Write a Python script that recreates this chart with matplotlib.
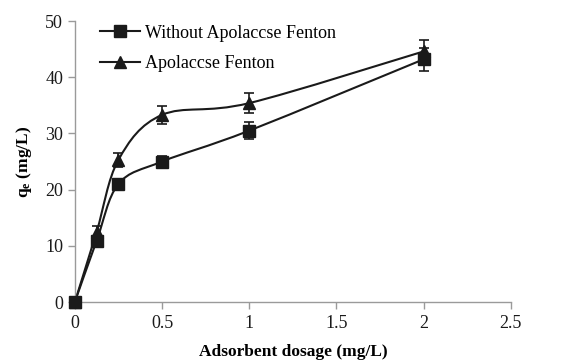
import numpy as np
import matplotlib
matplotlib.use("Agg")
import matplotlib.pyplot as plt
from matplotlib.path import Path
from matplotlib.patches import PathPatch
from matplotlib.lines import Line2D

plt.rcParams['font.family'] = ['Liberation Serif', 'DejaVu Serif']
plt.rcParams['mathtext.fontset'] = 'custom'
plt.rcParams['mathtext.rm'] = 'Liberation Serif'
plt.rcParams['mathtext.it'] = 'Liberation Serif:italic'
plt.rcParams['mathtext.bf'] = 'Liberation Serif:bold'

dosage = [0, 0.125, 0.25, 0.5, 1, 2]
without_fenton = [0, 10.9, 21.0, 25.0, 30.5, 43.2]
without_err = [0, 0.8, 0.6, 1.0, 1.5, 2.0]
with_fenton = [0, 12.5, 25.3, 33.3, 35.4, 44.6]
with_err = [0, 1.0, 1.2, 1.6, 1.8, 2.1]
labels = ["Without Apolaccse Fenton", "Apolaccse Fenton"]
xticks = [0, 0.5, 1, 1.5, 2, 2.5]
yticks = [0, 10, 20, 30, 40, 50]

fig = plt.figure(figsize=(5.67, 3.63), dpi=100)
ax = fig.add_axes([0.132, 0.168, 0.769, 0.774])


def smooth_path(x, y):
    pts = np.column_stack([x, y]).astype(float)
    n = len(pts)
    verts = [pts[0]]
    codes = [Path.MOVETO]
    for i in range(n - 1):
        p0 = pts[i - 1] if i > 0 else pts[i]
        p1 = pts[i]
        p2 = pts[i + 1]
        p3 = pts[i + 2] if i + 2 < n else pts[i + 1]
        c1 = p1 + (p2 - p0) / 6.0
        c2 = p2 - (p3 - p1) / 6.0
        verts += [c1, c2, p2]
        codes += [Path.CURVE4] * 3
    return Path(verts, codes)


gray = '#9a9a9a'
for ys, err, mk in [(without_fenton, without_err, 's'), (with_fenton, with_err, '^')]:
    ax.add_patch(PathPatch(smooth_path(dosage, ys), facecolor='none',
                           edgecolor='#1a1a1a', lw=1.5, zorder=2, clip_on=False))
    ax.errorbar(dosage[1:], ys[1:], yerr=err[1:], fmt='none', ecolor='#1a1a1a',
                elinewidth=1.2, capsize=3.5, capthick=1.2, zorder=3, clip_on=False)
    ax.plot(dosage, ys, linestyle='none', marker=mk, markersize=8.5,
            color='#1a1a1a', zorder=4, clip_on=False)

ax.set_xlim(0, 2.5)
ax.set_ylim(0, 50)
ax.set_xticks(xticks)
ax.set_xticklabels([f"{t:g}" for t in xticks])
ax.set_yticks(yticks)
for s in ['top', 'right']:
    ax.spines[s].set_visible(False)
for s in ['left', 'bottom']:
    ax.spines[s].set_color(gray)
    ax.spines[s].set_linewidth(1.0)
ax.tick_params(axis='both', colors=gray, labelcolor='#1a1a1a', labelsize=13,
               length=5, width=1.0, direction='out')
ax.tick_params(axis='x', pad=4)

ax.set_xlabel("Adsorbent dosage (mg/L)", fontsize=12.5, fontweight='bold', labelpad=9)
ax.set_ylabel(r"$\mathbf{q_e}$ (mg/L)", fontsize=12.5, fontweight='bold', labelpad=8)

handles = [Line2D([], [], color='#1a1a1a', lw=1.5, marker='s', markersize=8.5),
           Line2D([], [], color='#1a1a1a', lw=1.5, marker='^', markersize=8.5)]
ax.legend(handles, labels, loc='upper left', bbox_to_anchor=(0.02, 1.045), frameon=False,
          fontsize=13, handlelength=2.2, handletextpad=0.3, labelspacing=0.75)

fig.savefig("out.png", dpi=100)
